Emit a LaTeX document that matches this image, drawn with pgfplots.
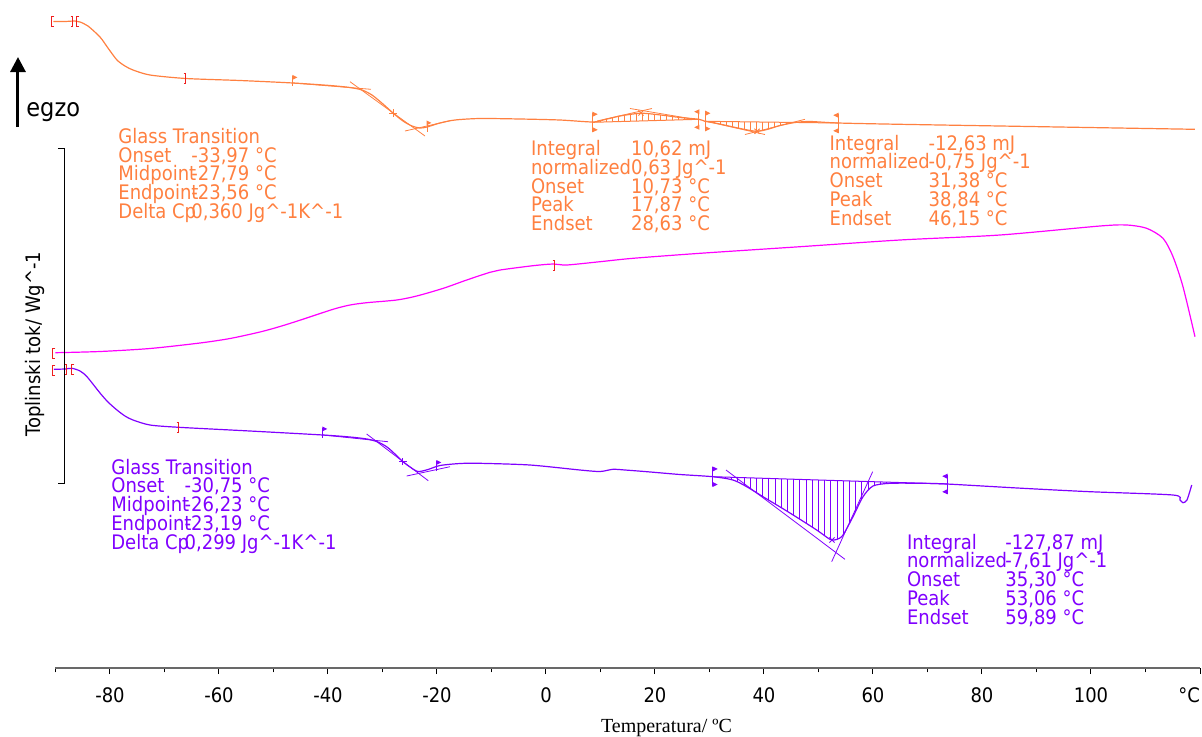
\documentclass[border=0pt]{standalone}
\usepackage{fontspec}
\setmainfont{DejaVu Sans}[FakeStretch=0.9]
\newfontfamily\labelserif{Liberation Serif}
\usepackage{pgfplots}
\pgfplotsset{compat=1.18}
\usepgfplotslibrary{fillbetween}
\usetikzlibrary{patterns.meta,arrows.meta}

\definecolor{orC}{RGB}{255,128,64}
\definecolor{puC}{RGB}{128,0,255}
\definecolor{maC}{RGB}{255,0,255}
\definecolor{brC}{RGB}{240,30,30}
\definecolor{axgray}{RGB}{105,105,105}

% integration-limit brackets
\pgfdeclareplotmark{lbr}{%
  \pgfpathmoveto{\pgfqpoint{1.2pt}{2.5pt}}\pgfpathlineto{\pgfqpoint{0pt}{2.5pt}}%
  \pgfpathlineto{\pgfqpoint{0pt}{-2.5pt}}\pgfpathlineto{\pgfqpoint{1.2pt}{-2.5pt}}%
  \pgfusepathqstroke}
\pgfdeclareplotmark{rbr}{%
  \pgfpathmoveto{\pgfqpoint{-1.2pt}{2.5pt}}\pgfpathlineto{\pgfqpoint{0pt}{2.5pt}}%
  \pgfpathlineto{\pgfqpoint{0pt}{-2.5pt}}\pgfpathlineto{\pgfqpoint{-1.2pt}{-2.5pt}}%
  \pgfusepathqstroke}
% glass transition limit flag
\pgfdeclareplotmark{gtflag}{%
  \pgfpathmoveto{\pgfqpoint{0pt}{-2.5pt}}\pgfpathlineto{\pgfqpoint{0pt}{2.5pt}}\pgfusepathqstroke
  \pgfpathmoveto{\pgfqpoint{0pt}{2.6pt}}\pgfpathlineto{\pgfqpoint{1.6pt}{1.8pt}}%
  \pgfpathlineto{\pgfqpoint{0pt}{1.0pt}}\pgfpathclose\pgfusepathqfillstroke}
% peak integration limit flags
\pgfdeclareplotmark{pkR}{%
  \pgfpathmoveto{\pgfqpoint{0pt}{-4.75pt}}\pgfpathlineto{\pgfqpoint{0pt}{4.75pt}}\pgfusepathqstroke
  \pgfpathmoveto{\pgfqpoint{0pt}{4.75pt}}\pgfpathlineto{\pgfqpoint{1.8pt}{3.9pt}}%
  \pgfpathlineto{\pgfqpoint{0pt}{3.0pt}}\pgfpathclose\pgfusepathqfillstroke
  \pgfpathmoveto{\pgfqpoint{0pt}{-4.75pt}}\pgfpathlineto{\pgfqpoint{1.8pt}{-3.9pt}}%
  \pgfpathlineto{\pgfqpoint{0pt}{-3.0pt}}\pgfpathclose\pgfusepathqfillstroke}
\pgfdeclareplotmark{pkL}{%
  \pgfpathmoveto{\pgfqpoint{0pt}{-4.75pt}}\pgfpathlineto{\pgfqpoint{0pt}{4.75pt}}\pgfusepathqstroke
  \pgfpathmoveto{\pgfqpoint{0pt}{4.75pt}}\pgfpathlineto{\pgfqpoint{-1.8pt}{3.9pt}}%
  \pgfpathlineto{\pgfqpoint{0pt}{3.0pt}}\pgfpathclose\pgfusepathqfillstroke
  \pgfpathmoveto{\pgfqpoint{0pt}{-4.75pt}}\pgfpathlineto{\pgfqpoint{-1.8pt}{-3.9pt}}%
  \pgfpathlineto{\pgfqpoint{0pt}{-3.0pt}}\pgfpathclose\pgfusepathqfillstroke}

\newcommand\annfont{\fontsize{10}{12}\selectfont}
% one line of an evaluation block: colour, label x, value x, baseline y, label, value
\newcommand\annl[6]{%
  \node[anchor=base west, inner sep=0pt, text=#1, font=\annfont] at (axis cs:#2,#4) {#5};
  \node[anchor=base west, inner sep=0pt, text=#1, font=\annfont] at (axis cs:#3,#4) {#6};}
\newcommand\seg[3]{\addplot[#1, line width=0.4pt] coordinates {#2 #3};}
\newcommand\jg{Jg\textasciicircum-1}

\begin{document}
\begin{tikzpicture}
\begin{axis}[
  scale only axis, width=572.25pt, height=334pt,
  xmin=-90, xmax=120, ymin=0, ymax=668,
  axis x line=bottom, axis y line=none,
  axis line style={-}, x axis line style={draw=axgray, line width=1pt},
  xtick={-80,-60,...,120},
  xticklabels={-80,-60,-40,-20,0,20,40,60,80,100,{\makebox[0pt][r]{°C}}},
  minor xtick={-90,-70,...,110},
  tick align=outside,
  major tick length=3pt, minor tick length=2.2pt,
  tick style={black, line width=0.5pt},
  xticklabel style={font=\annfont, anchor=base, yshift=-14pt},
  clip=false,
]
\coordinate (bbll) at (axis cs:-100.18,-68);
\coordinate (bbur) at (axis cs:120.37,668);

% ---------- first heating (orange) ----------
\addplot[orC, line width=0.6pt, smooth, tension=0.45, name path=orc] coordinates {
 (-90.4,646.5) (-88.26,646.5) (-86.42,647) (-85.50,646) (-84.04,642) (-81.83,631)
 (-80.37,620) (-78.72,608) (-77.25,602) (-75.78,598) (-72.66,593) (-66.06,589.5)
 (-56.15,587.5) (-46.42,585) (-39.63,582.5) (-35.96,580.5) (-33.76,578) (-31.93,573)
 (-29.91,564) (-28.07,555) (-26.24,547) (-24.59,542) (-23.12,540) (-21.83,541)
 (-19.45,545) (-16.70,548) (-12.11,549.5) (-4.77,549) (2.57,548) (8.62,546)
 (10.83,548.5) (13.58,552) (15.96,554) (17.43,554.8) (19.08,554.2) (21.83,552.5)
 (24.59,550.5) (28.07,548.7) (29.17,546.7) (31.01,545) (33.76,541.7) (36.51,538.5)
 (38.72,536.7) (40.55,538.5) (42.94,542.5) (45.69,545.5) (48.44,546.5) (53.58,545)
 (64.95,543.7) (83.30,542) (101.65,540.3) (119.08,538.7)};
\addplot[orC, line width=0.5pt, name path=orb1] coordinates {(8.62,545.7) (28.07,548.7)};
\addplot[orC, line width=0.5pt, name path=orb2] coordinates {(29.17,546.7) (53.58,545)};
\addplot[draw=none, pattern={Lines[angle=90,distance=3pt,line width=0.4pt]}, pattern color=orC]
  fill between[of=orc and orb1, soft clip={domain=8.62:28.07}];
\addplot[draw=none, pattern={Lines[angle=90,distance=3pt,line width=0.4pt]}, pattern color=orC]
  fill between[of=orc and orb2, soft clip={domain=29.17:53.58}];
% evaluation tangents
\seg{orC}{(-46.42,585)}{(-32.11,578.7)}
\seg{orC}{(-35.96,586.3)}{(-22.20,532)}
\seg{orC}{(-25.87,537)}{(-17.61,547.3)}
\seg{orC}{(9.36,547)}{(19.45,559.5)}
\seg{orC}{(15.41,559.5)}{(26.42,549.5)}
\seg{orC}{(29.17,547)}{(40.18,533.5)}
\seg{orC}{(36.51,533.5)}{(47.52,548.7)}
\addplot[orC, only marks, line width=0.5pt, mark=gtflag] coordinates {(-46.42,587) (-21.83,541.5)};
\addplot[orC, only marks, line width=0.5pt, mark=pkR] coordinates {(8.62,546) (29.30,547)};
\addplot[orC, only marks, line width=0.5pt, mark=pkL] coordinates {(28.07,548.5) (53.58,545)};
\addplot[orC, only marks, line width=0.5pt, mark=+, mark size=1.8pt] coordinates {(-28.07,555)};
\addplot[orC, only marks, line width=0.5pt, mark=x, mark size=1.8pt] coordinates {(17.43,555) (38.72,536.7)};

% ---------- cooling (magenta) ----------
\addplot[maC, line width=0.6pt, smooth, tension=0.45] coordinates {
 (-90,315.3) (-81.83,316.5) (-72.66,319.5) (-63.49,325) (-57.98,329.5) (-52.48,336)
 (-48.81,341.5) (-45.14,347.8) (-39.08,358.7) (-35.96,363) (-32.90,365.3) (-27.39,368)
 (-23.72,372) (-18.84,379.7) (-14.55,388) (-10.28,395.7) (-8.44,398) (-2.39,402.3)
 (1.34,404) (3.80,403) (9.91,406.3) (15.96,409.7) (28.26,414.7) (46.61,421.3)
 (64.95,428) (83.30,433) (101.65,442) (106.55,443) (110.22,439.7) (113.21,429.7)
 (115.05,411.3) (116.88,381.3) (119.08,331.3)};

% ---------- second heating (purple) ----------
\addplot[puC, line width=0.6pt, smooth, tension=0.45, name path=puc] coordinates {
 (-90.3,298.7) (-88.26,299) (-86.97,299.7) (-85.50,297) (-84.22,291.3) (-81.83,275)
 (-80.37,266) (-78.72,258) (-77.25,252) (-75.78,248) (-72.66,243) (-67.34,240.7)
 (-54.31,237) (-40.92,233) (-35.96,231) (-32.84,229) (-30.83,226) (-29.17,221)
 (-27.71,214) (-26.24,206.3) (-24.95,201) (-23.49,196.5) (-21.65,198.5) (-19.45,202.5)
 (-15.78,204.5) (-12.11,204.7) (-2.94,203) (6.24,198) (9.91,196.5) (12.29,198.7)
 (14.50,198) (18.53,196.3) (24.59,193.5) (30.64,191.3) (34.31,188) (36.83,181.3)
 (39.82,171.3) (44.77,155) (49.67,138) (52.11,128.7) (53.34,128.5) (54.50,133)
 (56.33,151.3) (58.17,171.3) (60.00,182) (63.12,184.7) (69.17,184.7) (73.58,184)
 (87.52,179.7) (99.82,176.3) (115.05,173) (116.33,168) (116.88,165.3) (117.61,168)
 (118.48,183)};
\addplot[puC, line width=0.5pt, name path=pub] coordinates {(30.64,191.3) (73.58,184)};
\addplot[draw=none, pattern={Lines[angle=90,distance=3.1pt,line width=0.4pt]}, pattern color=puC]
  fill between[of=puc and pub, soft clip={domain=30.64:73.58}];
\seg{puC}{(-40.92,233)}{(-28.99,226.3)}
\seg{puC}{(-32.90,234)}{(-21.60,187.3)}
\seg{puC}{(-25.56,192)}{(-17.61,201.3)}
\seg{puC}{(33.03,198)}{(54.86,108.7)}
\seg{puC}{(59.94,196.3)}{(52.42,106.3)}
\addplot[puC, only marks, line width=0.5pt, mark=gtflag] coordinates {(-40.92,235.5) (-20.0,202)};
\addplot[puC, only marks, line width=0.5pt, mark=pkR] coordinates {(30.64,191.3)};
\addplot[puC, only marks, line width=0.5pt, mark=pkL] coordinates {(73.58,184)};
\addplot[puC, only marks, line width=0.5pt, mark=+, mark size=1.8pt] coordinates {(-26.24,206.3)};
\addplot[puC, only marks, line width=0.5pt, mark=x, mark size=1.8pt] coordinates {(52.48,128)};

% ---------- segment brackets ----------
\addplot[brC, only marks, line width=0.5pt, mark=lbr] coordinates {
 (-90.64,647) (-86.06,647) (-90.46,298) (-86.97,299) (-90.46,315)};
\addplot[brC, only marks, line width=0.5pt, mark=rbr] coordinates {
 (-86.79,647) (-66.06,590) (-87.89,299) (-67.34,240.7) (1.65,403)};

% heat-flow scale bar
\addplot[black, line width=0.5pt] coordinates {(-89.54,520) (-88.26,520) (-88.26,185) (-89.54,185)};

% exo direction arrow and axis titles
\draw[black, line width=1.5pt, -{Triangle[width=7.5pt,length=7.5pt]}]
  (axis cs:-96.88,541) -- (axis cs:-96.88,611);
\node[anchor=base west, inner sep=0pt, font=\fontsize{12.5}{15}\selectfont] at (axis cs:-95.41,551.3) {egzo};
\node[anchor=base, inner sep=0pt, rotate=90, font=\annfont] at (axis cs:-92.72,324) {Toplinski tok/ Wg\textasciicircum-1};
\node[anchor=base, inner sep=0pt, font=\labelserif\fontsize{10}{12}\selectfont] at (axis cs:22.11,-64.7) {Temperatura/ ºC};

% ---------- evaluation results ----------
\annl{orC}{-78.53}{-65.14}{524.7}{Glass Transition}{}
\annl{orC}{-78.53}{-65.14}{505.95}{Onset}{-33,97 °C}
\annl{orC}{-78.53}{-65.14}{487.2}{Midpoint}{-27,79 °C}
\annl{orC}{-78.53}{-65.14}{468.45}{Endpoint}{-23,56 °C}
\annl{orC}{-78.53}{-65.14}{449.7}{Delta Cp}{0,360 Jg\textasciicircum-1K\textasciicircum-1}

\annl{orC}{-2.81}{15.54}{512.3}{Integral}{10,62 mJ}
\annl{orC}{-2.81}{15.54}{493.55}{normalized}{0,63 \jg}
\annl{orC}{-2.81}{15.54}{474.8}{Onset}{10,73 °C}
\annl{orC}{-2.81}{15.54}{456.05}{Peak}{17,87 °C}
\annl{orC}{-2.81}{15.54}{437.3}{Endset}{28,63 °C}

\annl{orC}{51.98}{70.15}{518}{Integral}{-12,63 mJ}
\annl{orC}{51.98}{70.15}{499.25}{normalized}{-0,75 \jg}
\annl{orC}{51.98}{70.15}{480.5}{Onset}{31,38 °C}
\annl{orC}{51.98}{70.15}{461.75}{Peak}{38,84 °C}
\annl{orC}{51.98}{70.15}{443}{Endset}{46,15 °C}

\annl{puC}{-79.82}{-66.37}{194}{Glass Transition}{}
\annl{puC}{-79.82}{-66.37}{175.25}{Onset}{-30,75 °C}
\annl{puC}{-79.82}{-66.37}{156.5}{Midpoint}{-26,23 °C}
\annl{puC}{-79.82}{-66.37}{137.75}{Endpoint}{-23,19 °C}
\annl{puC}{-79.82}{-66.37}{119}{Delta Cp}{0,299 Jg\textasciicircum-1K\textasciicircum-1}

\annl{puC}{66.18}{84.22}{119}{Integral}{-127,87 mJ}
\annl{puC}{66.18}{84.22}{100.25}{normalized}{-7,61 \jg}
\annl{puC}{66.18}{84.22}{81.5}{Onset}{35,30 °C}
\annl{puC}{66.18}{84.22}{62.75}{Peak}{53,06 °C}
\annl{puC}{66.18}{84.22}{44}{Endset}{59,89 °C}
\end{axis}
\pgfresetboundingbox
\path[use as bounding box] (bbll) rectangle (bbur);
\end{tikzpicture}
\end{document}
